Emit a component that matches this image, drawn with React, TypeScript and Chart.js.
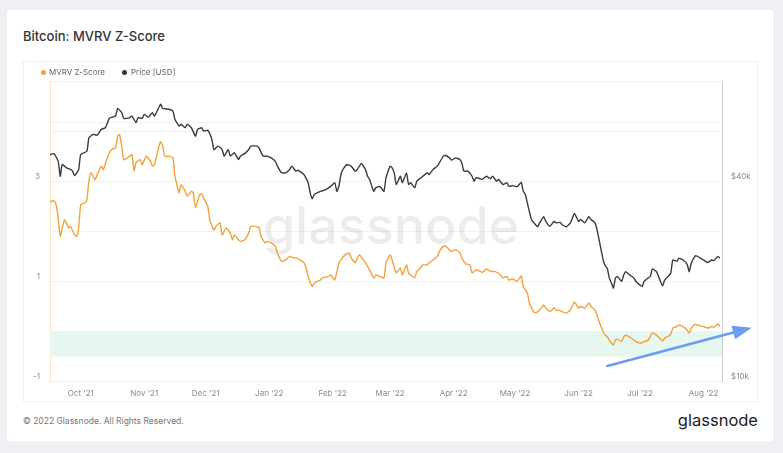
import React, { useEffect, useRef } from 'react';
import { Chart, registerables } from 'chart.js';

Chart.register(...registerables);

const FONT = 'Inter, "Noto Sans", "DejaVu Sans", sans-serif';

// x values are days since 2021-09-16
const xMin = 0;
const xMax = 328;
const monthTickDays = [15, 46, 76, 107, 138, 166, 197, 227, 258, 288, 319];
const monthTickLabels = ["Oct '21", "Nov '21", "Dec '21", "Jan '22", "Feb '22", "Mar '22", "Apr '22", "May '22", "Jun '22", "Jul '22", "Aug '22"];

const zTickValues = [-1, 0, 1, 2, 3, 4, 5];
const zTickLabels = ['-1', '', '1', '', '3', '', ''];
const priceTickValues = [10000, 20000, 40000, 60000, 80000];
const priceTickLabels = ['$10k', '', '$40k', '', ''];

const greenBandTop = 0;
const greenBandBottom = -0.5;

const zDays = [
  0, 2, 3, 4, 5, 7, 8, 9, 10, 12, 13, 14, 15, 17, 18, 19, 20, 22, 23, 25, 26, 28, 30, 32, 33, 34, 35, 36, 38, 40,
  41, 42, 44, 45, 47, 49, 50, 51, 53, 54, 55, 56, 58, 60, 61, 63, 64, 66, 67, 69, 70, 71, 73, 74, 75, 77, 78, 80, 81, 83,
  84, 86, 88, 89, 90, 92, 93, 95, 97, 98, 100, 102, 103, 105, 106, 108, 110, 111, 113, 115, 117, 119, 120, 122, 124, 125, 126, 128, 129, 132,
  133, 136, 137, 139, 141, 142, 144, 146, 147, 149, 150, 151, 153, 154, 156, 158, 159, 161, 163, 164, 166, 167, 169, 171, 172, 174, 175, 176, 178, 179,
  180, 182, 184, 185, 187, 189, 190, 192, 193, 195, 196, 198, 200, 201, 203, 205, 206, 208, 210, 211, 213, 215, 217, 220, 221, 223, 224, 226, 228, 230,
  231, 233, 234, 236, 237, 239, 241, 242, 244, 246, 247, 249, 250, 252, 254, 256, 258, 259, 261, 263, 264, 266, 267, 268, 270, 271, 272, 273, 274, 275,
  276, 277, 279, 280, 281, 283, 285, 286, 288, 289, 290, 292, 293, 294, 296, 298, 299, 300, 302, 303, 304, 306, 307, 309, 311, 312, 313, 315, 316, 318,
  319, 321, 323, 324, 326, 327,
];
const zScore = [
  2.59, 2.61, 2.53, 2.27, 1.9, 2.23, 2.17, 2.07, 2.1, 1.93, 1.9, 2.07, 2.53, 2.57, 2.63, 3.0, 3.17, 3.03, 3.13, 3.3, 3.23, 3.47, 3.63, 3.67, 3.9, 3.93, 3.7, 3.43, 3.47, 3.53,
  3.21, 3.37, 3.43, 3.33, 3.5, 3.4, 3.3, 3.33, 3.67, 3.79, 3.7, 3.5, 3.5, 3.47, 3.1, 2.77, 2.93, 2.8, 2.7, 2.8, 2.77, 2.47, 2.73, 2.75, 2.67, 2.5, 2.23, 2.03, 2.1, 2.17,
  1.93, 2.07, 1.97, 1.83, 1.93, 1.83, 1.8, 1.83, 1.97, 2.1, 2.1, 2.08, 1.9, 1.77, 1.8, 1.77, 1.7, 1.57, 1.4, 1.43, 1.5, 1.47, 1.47, 1.43, 1.37, 1.27, 1.1, 0.9, 0.97, 1.03,
  1.07, 1.1, 1.13, 1.03, 1.37, 1.43, 1.53, 1.57, 1.47, 1.37, 1.47, 1.53, 1.43, 1.37, 1.23, 1.07, 1.13, 1.1, 1.07, 1.37, 1.53, 1.43, 1.17, 1.27, 1.13, 1.33, 1.17, 1.13, 1.07, 1.2,
  1.23, 1.33, 1.33, 1.37, 1.43, 1.5, 1.6, 1.7, 1.71, 1.63, 1.6, 1.63, 1.58, 1.47, 1.35, 1.33, 1.17, 1.23, 1.2, 1.18, 1.25, 1.2, 1.2, 1.13, 1.07, 1.1, 1.03, 1.05, 1.0, 1.11,
  0.9, 0.77, 0.57, 0.4, 0.37, 0.43, 0.53, 0.47, 0.4, 0.47, 0.43, 0.42, 0.4, 0.37, 0.43, 0.59, 0.47, 0.5, 0.47, 0.57, 0.5, 0.43, 0.33, 0.2, 0.0, -0.07, -0.1, -0.17, -0.23, -0.27,
  -0.17, -0.15, -0.2, -0.11, -0.07, -0.11, -0.17, -0.2, -0.23, -0.22, -0.2, -0.17, -0.1, -0.03, -0.07, -0.15, -0.19, -0.13, -0.09, -0.05, 0.07, 0.1, 0.13, 0.1, 0.03, -0.03, 0.07, 0.15, 0.13, 0.11,
  0.1, 0.07, 0.1, 0.09, 0.15, 0.1,
];

const priceDays = [
  0, 2, 4, 5, 6, 8, 10, 11, 12, 14, 15, 18, 19, 21, 23, 25, 27, 29, 32, 33, 35, 36, 39, 40, 42, 43, 45, 46, 48, 50,
  51, 54, 55, 58, 60, 61, 63, 64, 66, 67, 69, 71, 72, 74, 75, 77, 79, 80, 82, 84, 85, 87, 88, 90, 92, 93, 95, 97, 98, 101,
  102, 104, 106, 108, 110, 111, 113, 115, 117, 118, 120, 121, 123, 124, 126, 127, 128, 129, 132, 134, 136, 137, 139, 140, 141, 142, 143, 145, 147, 149,
  150, 152, 154, 155, 156, 158, 159, 161, 163, 164, 166, 167, 168, 169, 171, 172, 174, 175, 176, 178, 179, 180, 182, 184, 185, 187, 189, 190, 192, 193,
  195, 196, 198, 200, 201, 202, 204, 206, 207, 208, 210, 211, 213, 215, 216, 218, 219, 221, 223, 224, 226, 228, 230, 231, 232, 233, 235, 237, 238, 239,
  241, 242, 244, 246, 247, 249, 250, 252, 254, 256, 258, 259, 261, 263, 264, 266, 267, 268, 270, 271, 272, 273, 274, 275, 276, 277, 279, 280, 281, 283,
  285, 286, 288, 289, 290, 292, 293, 294, 296, 298, 299, 300, 302, 303, 304, 306, 307, 309, 311, 312, 313, 315, 316, 318, 319, 321, 323, 324, 326, 327,
];
const priceUsd = [
  48100, 48400, 45900, 41400, 44900, 43900, 43400, 42900, 41600, 43400, 48100, 49200, 54000, 55300, 55000, 57200, 57900, 61800, 62800, 66200, 64300, 61800, 62100, 62800, 60000, 62100, 61800, 63500, 62300, 64300,
  62800, 68100, 66200, 65800, 65000, 61300, 58600, 59300, 57900, 59300, 57900, 54600, 57200, 57900, 56600, 56900, 53400, 49800, 51000, 49800, 47600, 49800, 47600, 48700, 46500, 47600, 48400, 49800, 51000, 51000,
  50400, 47600, 47600, 47000, 45900, 44400, 42400, 42400, 43400, 44400, 42900, 43200, 42400, 41900, 39600, 36900, 35400, 36500, 37300, 37600, 38200, 38600, 39600, 37300, 38600, 41900, 43400, 44900, 44400, 42900,
  43400, 45200, 43400, 41400, 40500, 37300, 38200, 38600, 37300, 41000, 44400, 43900, 42400, 39100, 41400, 39600, 42400, 39100, 39600, 38200, 40000, 40500, 41400, 42400, 41900, 43400, 44400, 45400, 47600, 47800,
  47000, 46300, 47000, 46500, 45400, 42900, 42900, 41400, 40000, 41000, 40700, 40500, 41400, 40700, 41400, 40000, 40500, 39100, 39600, 38600, 38800, 38500, 39700, 37300, 36500, 34400, 30700, 29600, 29200, 30000,
  31300, 30300, 29300, 30300, 30000, 30100, 29600, 29200, 30000, 32000, 30300, 30700, 30000, 31300, 30700, 30000, 28600, 26700, 23200, 22300, 21900, 20500, 19800, 19100, 20500, 20700, 20000, 20900, 21400, 20900,
  20500, 20000, 19500, 19300, 20000, 20500, 20700, 21800, 21400, 20000, 19400, 20200, 20800, 21200, 23200, 23000, 23500, 23200, 22500, 21400, 22700, 23900, 23800, 23400, 23200, 22800, 23200, 23100, 23800, 23500,
];

const decorPlugin = {
  id: 'decor',
  beforeDatasetsDraw(chart: any) {
    const { ctx, chartArea: a, scales } = chart;
    const yTop = scales.y.getPixelForValue(greenBandTop);
    const yBot = scales.y.getPixelForValue(greenBandBottom);
    ctx.save();
    ctx.fillStyle = '#e5f7ef';
    ctx.fillRect(a.left, yTop, a.right - a.left, yBot - yTop);
    ctx.font = `500 52px ${FONT}`;
    ctx.fillStyle = 'rgba(0,0,0,0.075)';
    ctx.textAlign = 'center';
    ctx.textBaseline = 'alphabetic';
    ctx.fillText('glassnode', (a.left + a.right) / 2 + 5, (a.top + a.bottom) / 2 + 13);
    ctx.restore();
  },
  afterDraw(chart: any) {
    const { ctx, chartArea: a } = chart;
    const sx = a.right - 114.7;
    const sy = a.bottom - 15.7;
    const tx = a.right + 29.7;
    const ty = a.bottom - 54;
    const ang = Math.atan2(ty - sy, tx - sx);
    const headLen = 19;
    const headHalf = 7;
    const bx = tx - headLen * Math.cos(ang);
    const by = ty - headLen * Math.sin(ang);
    ctx.save();
    ctx.strokeStyle = '#6a9cf0';
    ctx.fillStyle = '#6a9cf0';
    ctx.lineWidth = 2.6;
    ctx.lineCap = 'round';
    ctx.beginPath();
    ctx.moveTo(sx, sy);
    ctx.lineTo(bx + 2 * Math.cos(ang), by + 2 * Math.sin(ang));
    ctx.stroke();
    ctx.beginPath();
    ctx.moveTo(tx, ty);
    ctx.lineTo(bx + headHalf * Math.sin(ang), by - headHalf * Math.cos(ang));
    ctx.lineTo(bx - headHalf * Math.sin(ang), by + headHalf * Math.cos(ang));
    ctx.closePath();
    ctx.fill();
    ctx.restore();
  },
};

export default function App() {
  const ref = useRef<HTMLCanvasElement>(null);

  useEffect(() => {
    Chart.defaults.font.family = FONT;
    const chart = new Chart(ref.current as HTMLCanvasElement, {
      type: 'line',
      data: {
        datasets: [
          {
            label: 'MVRV Z-Score',
            data: zDays.map((d, i) => ({ x: d, y: zScore[i] })),
            yAxisID: 'y',
            borderColor: '#f5a13a',
            borderWidth: 1.4,
            pointRadius: 0,
            tension: 0.15,
          },
          {
            label: 'Price [USD]',
            data: priceDays.map((d, i) => ({ x: d, y: priceUsd[i] })),
            yAxisID: 'y1',
            borderColor: '#3b3b3b',
            borderWidth: 1.4,
            pointRadius: 0,
            tension: 0.15,
          },
        ],
      },
      options: {
        animation: false,
        responsive: false,
        devicePixelRatio: 1,
        layout: { padding: { top: 20, left: 0, right: 0, bottom: 0 } },
        plugins: { legend: { display: false }, tooltip: { enabled: false } },
        scales: {
          x: {
            type: 'linear',
            min: xMin,
            max: xMax,
            grid: { display: false, drawTicks: false },
            border: { display: true, color: '#f0f0f0' },
            afterBuildTicks: (scale: any) => {
              scale.ticks = monthTickDays.map((v) => ({ value: v }));
            },
            afterFit: (scale: any) => {
              scale.height = 20.3;
            },
            ticks: {
              autoSkip: false,
              maxRotation: 0,
              padding: 7,
              color: '#8a8a8a',
              font: { size: 8 },
              callback: (v: any) => {
                const i = monthTickDays.indexOf(Number(v));
                return i >= 0 ? monthTickLabels[i] : '';
              },
            },
          },
          y: {
            type: 'linear',
            position: 'left',
            min: -1,
            max: 5,
            grid: { color: '#f1f1f1', drawTicks: false },
            border: { display: true, color: 'rgba(245,161,58,0.3)' },
            afterBuildTicks: (scale: any) => {
              scale.ticks = zTickValues.map((v) => ({ value: v }));
            },
            afterFit: (scale: any) => {
              scale.width = 27;
            },
            ticks: {
              padding: 10,
              labelOffset: -5,
              color: '#8a8a8a',
              font: { size: 8 },
              callback: (v: any) => {
                const i = zTickValues.indexOf(Number(v));
                return i >= 0 ? zTickLabels[i] : '';
              },
            },
          },
          y1: {
            type: 'logarithmic',
            position: 'right',
            min: 10000,
            max: 80000,
            grid: { color: '#f1f1f1', drawTicks: false },
            border: { display: true, color: '#d0d0d0' },
            afterBuildTicks: (scale: any) => {
              scale.ticks = priceTickValues.map((v) => ({ value: v }));
            },
            afterFit: (scale: any) => {
              scale.width = 36;
            },
            ticks: {
              padding: 9,
              labelOffset: -5,
              color: '#8a8a8a',
              font: { size: 8 },
              callback: (v: any) => {
                const i = priceTickValues.indexOf(Number(v));
                return i >= 0 ? priceTickLabels[i] : '';
              },
            },
          },
        },
      },
      plugins: [decorPlugin],
    } as any);
    return () => chart.destroy();
  }, []);

  return (
    <div
      style={{
        position: 'fixed',
        left: 0,
        top: 0,
        width: 783,
        height: 453,
        background: '#eef0f3',
        fontFamily: FONT,
        overflow: 'hidden',
      }}
    >
      <div style={{ position: 'absolute', left: 7, top: 10, width: 766, height: 431, background: '#ffffff', borderRadius: 3 }} />
      <div
        style={{
          position: 'absolute',
          left: 23,
          top: 30,
          fontSize: 13,
          lineHeight: '13px',
          fontWeight: 500,
          color: '#333',
          whiteSpace: 'nowrap',
        }}
      >
        Bitcoin: MVRV Z-Score
      </div>
      <div
        style={{
          position: 'absolute',
          left: 23,
          top: 61,
          width: 735,
          height: 341,
          border: '1px solid #efefef',
          boxSizing: 'border-box',
        }}
      />
      <canvas
        ref={ref}
        width={735}
        height={341}
        style={{ position: 'absolute', left: 23, top: 61, width: 735, height: 341 }}
      />
      <div style={{ position: 'absolute', left: 41, top: 70, width: 5, height: 5, borderRadius: '50%', background: '#f5a13a' }} />
      <div style={{ position: 'absolute', left: 49, top: 68, fontSize: 8, lineHeight: '8px', color: '#666', whiteSpace: 'nowrap' }}>
        MVRV Z-Score
      </div>
      <div style={{ position: 'absolute', left: 122, top: 70, width: 5, height: 5, borderRadius: '50%', background: '#333' }} />
      <div style={{ position: 'absolute', left: 131, top: 68, fontSize: 8, lineHeight: '8px', color: '#666', whiteSpace: 'nowrap' }}>
        Price [USD]
      </div>
      <div style={{ position: 'absolute', left: 23, top: 417, fontSize: 8.5, lineHeight: '8.5px', color: '#777', whiteSpace: 'nowrap' }}>
        © 2022 Glassnode. All Rights Reserved.
      </div>
      <div
        style={{
          position: 'absolute',
          right: 783 - 758,
          top: 412,
          fontSize: 16.5,
          lineHeight: '16.5px',
          fontWeight: 400,
          color: '#1d1d1d',
          whiteSpace: 'nowrap',
        }}
      >
        glassnode
      </div>
    </div>
  );
}
